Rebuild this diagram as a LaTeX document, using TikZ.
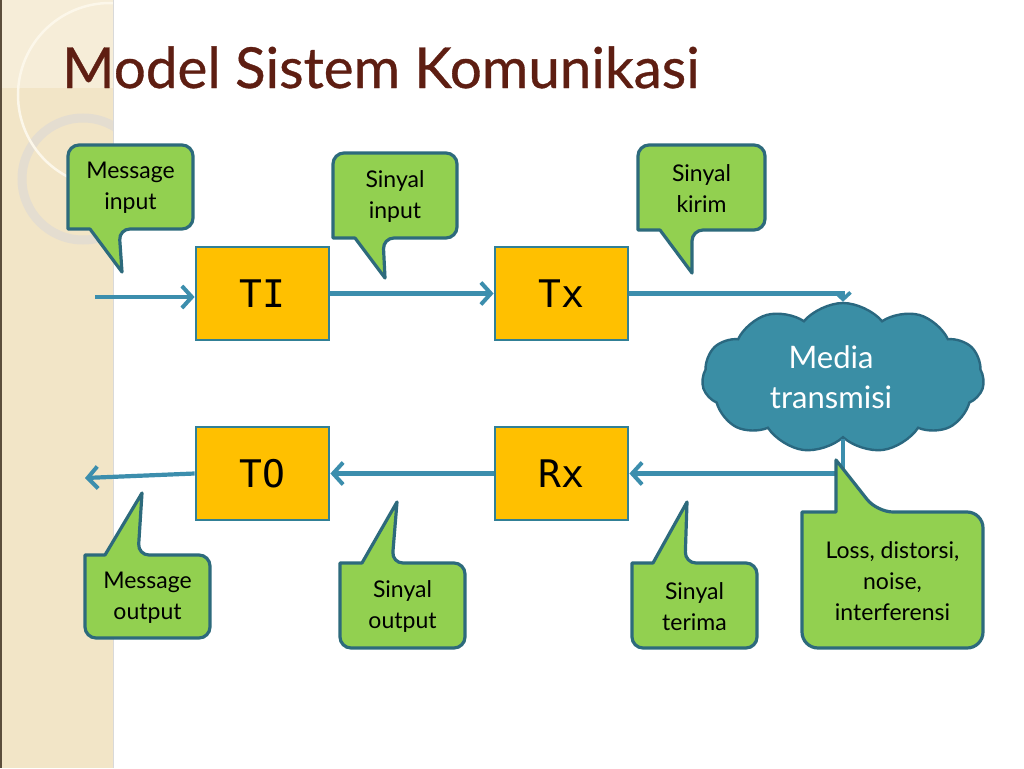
\documentclass[tikz,border=0pt]{standalone}
\usepackage{fontspec}
\setmainfont{Lato}
\newfontfamily\boxfont{DejaVu Sans Mono}
\newfontfamily\titlefont[FakeBold=0.6]{Lato}
\usetikzlibrary{shapes.symbols,arrows.meta}
\definecolor{stripc}{RGB}{242,229,199}
\definecolor{striptop}{RGB}{246,237,216}
\definecolor{stripedge}{RGB}{92,78,60}
\definecolor{ringc}{RGB}{228,221,208}
\definecolor{thinring}{RGB}{252,247,234}
\definecolor{boxfill}{RGB}{255,192,0}
\definecolor{boxborder}{RGB}{49,128,150}
\definecolor{arrowc}{RGB}{60,142,173}
\definecolor{callfill}{RGB}{146,208,80}
\definecolor{callborder}{RGB}{45,106,124}
\definecolor{cloudfill}{RGB}{58,142,165}
\definecolor{cloudborder}{RGB}{42,104,128}
\definecolor{titlec}{RGB}{94,30,18}
\begin{document}
\begin{tikzpicture}[x=1pt,y=-1pt,
  blockbox/.style={draw=boxborder,fill=boxfill,line width=2.8pt,minimum width=133pt,minimum height=93pt,inner sep=0pt,font=\boxfont\fontsize{38}{42}\selectfont},
  flow/.style={draw=arrowc,line width=4.2pt,-{Straight Barb[length=10pt,width=22pt,line width=4pt]}},
  callbox/.style={draw=callborder,fill=callfill,line width=3.2pt,line join=round},
  calltext/.style={align=center,inner sep=0pt,font=\fontsize{23}{31}\selectfont}]
\useasboundingbox (0,0) rectangle (1024,768);
\fill[white] (0,0) rectangle (1024,768);
% left strip
\fill[stripc] (0,0) rectangle (113,768);
\fill[striptop] (0,0) rectangle (113,88);
\begin{scope}
  \clip (0,0) rectangle (113,768);
  \draw[ringc,line width=9pt] (83,179) circle[radius=61];
  \draw[thinring,line width=2.5pt] (110,95) circle[radius=92];
\end{scope}
\fill[stripedge] (0,0) rectangle (2,768);
\draw[black!15,line width=1pt] (113.5,0) -- (113.5,768);
% title
\node[anchor=base west,inner sep=0pt,text=titlec,font=\titlefont\fontsize{56.5}{62}\selectfont] (title) at (62,88) {Model Sistem Komunikasi};
% blocks
\node[blockbox] (TI) at (262.5,293.5) {TI};
\node[blockbox] (Tx) at (561.5,293.5) {Tx};
\node[blockbox] (TO) at (262.5,473.5) {TO};
\node[blockbox] (Rx) at (561.5,473.5) {Rx};
\node[cloud,cloud puffs=11,cloud puff arc=100,aspect=1.9,minimum width=282pt,minimum height=150pt,
  draw=cloudborder,fill=cloudfill,line width=2.4pt] (cloud) at (843,378) {};
\node[text=white,align=center,inner sep=0pt,font=\fontsize{31}{40}\selectfont] (cloudtxt) at (831,377) {Media\\transmisi};
% connectors
\coordinate (inL) at (95,297);
\coordinate (outL) at (85,478);
\draw[flow] (inL) -- (inL -| TI.west);
\draw[flow] (TI.east) -- (Tx.west);
\draw[draw=arrowc,line width=4.2pt,-{Straight Barb[length=7pt,width=15pt,line width=3.6pt]}] (Tx.east) -| (cloud.north);
\draw[flow] (cloud.south) |- (Rx.east);
\draw[flow] (Rx.west) -- (TO.east);
\draw[flow] (TO.west) -- (outL);
% callouts
\filldraw[callbox] (68,187) [rounded corners=11pt] -- (68,145) -- (193,145) -- (193,229) -- (119,229) [sharp corners] -- (122,272) -- (90,229) -- (68,229) [rounded corners=11pt] -- cycle;
\node[calltext] (msgin) at (130.5,188) {Message\\input};
\filldraw[callbox] (333,195) [rounded corners=11pt] -- (333,153) -- (457,153) -- (457,238) -- (383,238) [sharp corners] -- (385,278) -- (355,238) -- (333,238) [rounded corners=11pt] -- cycle;
\node[calltext] (sigin) at (395,196.5) {Sinyal\\input};
\filldraw[callbox] (638,187) [rounded corners=11pt] -- (638,145) -- (765,145) -- (765,230) -- (692,230) [sharp corners] -- (692,273) -- (660,230) -- (638,230) [rounded corners=11pt] -- cycle;
\node[calltext] (sigkirim) at (701.5,188.5) {Sinyal\\kirim};
\filldraw[callbox] (85,596) [rounded corners=11pt] -- (85,638) -- (210,638) -- (210,555) -- (138,555) [sharp corners] -- (142,493) -- (105,555) -- (85,555) [rounded corners=11pt] -- cycle;
\node[calltext] (msgout) at (147.5,597.5) {Message\\output};
\filldraw[callbox] (340,605) [rounded corners=11pt] -- (340,648) -- (465,648) -- (465,563) -- (392,563) [sharp corners] -- (397,502) -- (362,563) -- (340,563) [rounded corners=11pt] -- cycle;
\node[calltext] (sigout) at (402.5,606.5) {Sinyal\\output};
\filldraw[callbox] (632,605) [rounded corners=11pt] -- (632,648) -- (757,648) -- (757,563) -- (685,563) [sharp corners] -- (687,502) -- (653,563) -- (632,563) [rounded corners=11pt] -- cycle;
\node[calltext] (sigterima) at (694.5,606.5) {Sinyal\\terima};
\filldraw[callbox] (802,580) [rounded corners=16pt] -- (802,648) -- (983,648) -- (983,512) -- (877,512) [sharp corners] -- (836,460) -- (836,512) -- (802,512) [rounded corners=16pt] -- cycle;
\node[calltext] (loss) at (892.5,581) {Loss, distorsi,\\noise,\\interferensi};
\end{tikzpicture}
\end{document}
